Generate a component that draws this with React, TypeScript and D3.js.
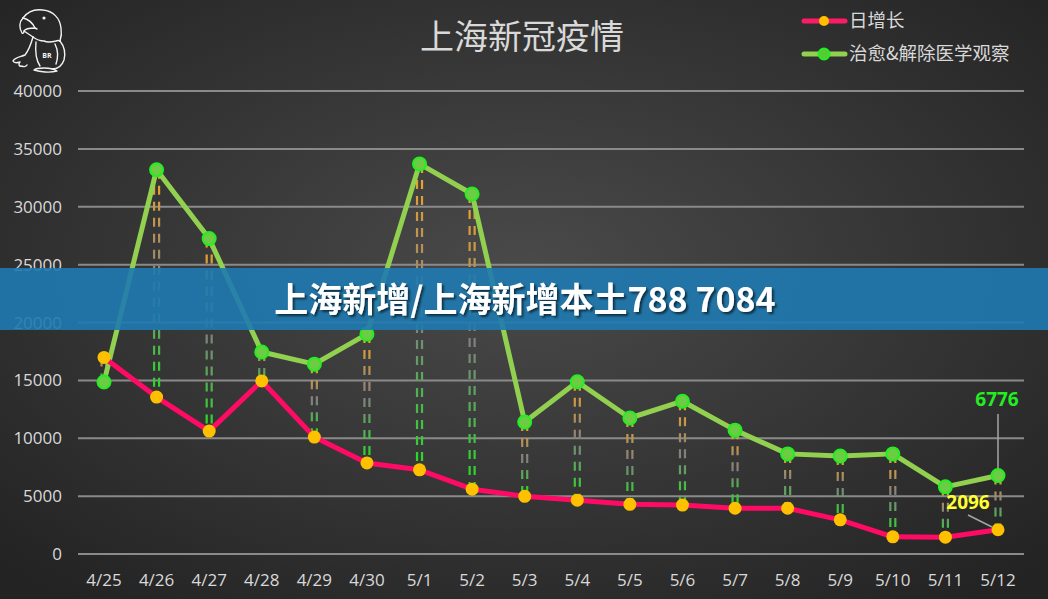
import React from "react";
import * as d3 from "d3";

const dates = ["4/25","4/26","4/27","4/28","4/29","4/30","5/1","5/2","5/3","5/4","5/5","5/6","5/7","5/8","5/9","5/10","5/11","5/12"];
const dailyNew = [16980,13560,10620,14950,10100,7870,7270,5600,4980,4650,4290,4230,3950,3950,2950,1480,1450,2096];
const recovered = [14860,33200,27250,17450,16400,19000,33700,31100,11400,14880,11750,13200,10700,8650,8470,8650,5800,6776];
const yTicks = [0,5000,10000,15000,20000,25000,30000,35000,40000];
const seriesNames = ["日增长","治愈&解除医学观察"];

const W = 1048, H = 599;
const M = { left: 78, right: 1024, top: 91, bottom: 554 };

export default function App() {
  const y = d3.scaleLinear().domain([0, 40000]).range([M.bottom, M.top]);
  const x = d3.scalePoint<string>().domain(dates).range([104, 998]);
  const line = d3.line<number>().x((_, i) => x(dates[i])!).y(d => y(d));
  const font = "'Microsoft YaHei','Noto Sans CJK SC','Noto Sans',sans-serif";
  const labelFont = "'Open Sans','Noto Sans',sans-serif";

  return (
    <svg width={W} height={H} style={{ position: "absolute", left: 0, top: 0 }}>
      <defs>
        <radialGradient id="bg" cx="50%" cy="45%" r="70%">
          <stop offset="0%" stopColor="#4a4a4a" />
          <stop offset="100%" stopColor="#232323" />
        </radialGradient>
        <filter id="shadow" x="-10%" y="-30%" width="120%" height="160%">
          <feDropShadow dx="2" dy="2" stdDeviation="1" floodColor="#000" floodOpacity="0.6" />
        </filter>
      </defs>
      <rect x={0} y={0} width={W} height={H} fill="url(#bg)" />

      {/* logo: parrot */}
      <g fill="none" stroke="#f2f2f2" strokeWidth={1.4} strokeLinejoin="round" strokeLinecap="round">
        <path d="M23,18 C28,11 36,9 43,10 C53,11 60,18 61,28 C62,34 61,38 60,41" />
        <path d="M23,18 C19,22 19,28 22,33 C23,34 24,33 24,31 C25,29 29,28 35,28 L37,29" />
        <path d="M23,18 C28,19 32,22 35,28" />
        <path d="M24,31 C27,33 30,35 33,37" />
        <path d="M33,37 C37,40 40,41 44,41 C48,43 52,42 56,41 C58,40 60,41 60,41" />
        <path d="M33,37 C31,44 29,50 25,55 C20,57 14,58 13,61 C14,63 17,63 20,62 C18,64 19,67 22,66 C23,67 26,67 27,65" />
        <path d="M60,41 C64,46 66,52 64,60 C62,66 58,69 52,69" />
        <path d="M55,44 C58,50 58,58 56,64" />
        <path d="M36,42 C35,52 36,60 40,66" />
        <path d="M34,70 C40,72 50,73 57,71 C54,69 48,68 44,68 C40,68 36,68 34,70" />
        <circle cx={44} cy={18} r={0.9} fill="#f2f2f2" />
      </g>
      <text x={47} y={58} fill="#f2f2f2" fontSize={7} fontWeight="bold" textAnchor="middle" fontFamily={labelFont}>BR</text>

      {/* title */}
      <text x={522} y={49} fill="#d9d9d9" fontSize={34} textAnchor="middle" fontFamily={font}>上海新冠疫情</text>

      {/* legend */}
      <g fontFamily={font} fontSize={18.5} fill="#d9d9d9">
        <line x1={804} x2={845} y1={21} y2={21} stroke="#ff1a66" strokeWidth={5} strokeLinecap="round" />
        <circle cx={824} cy={21} r={5} fill="#ffc000" />
        <text x={849} y={27}>{seriesNames[0]}</text>
        <line x1={804} x2={845} y1={54} y2={54} stroke="#92d050" strokeWidth={5} strokeLinecap="round" />
        <circle cx={824} cy={54} r={5.5} fill="#55cc33" stroke="#22ee22" strokeWidth={2} />
        <text x={849} y={60}>{seriesNames[1]}</text>
      </g>

      {/* grid */}
      {yTicks.map(t => (
        <g key={t}>
          <line x1={M.left} x2={M.right} y1={y(t)} y2={y(t)} stroke="#8a8a8a" strokeWidth={2} />
          <text x={62} y={y(t) + 6} fill="#d9d9d9" fontSize={17} textAnchor="end" fontFamily={labelFont}>{t}</text>
        </g>
      ))}
      {dates.map(d => (
        <text key={d} x={x(d)!} y={586} fill="#d9d9d9" fontSize={17} textAnchor="middle" fontFamily={labelFont}>{d}</text>
      ))}

      {/* dashed connectors */}
      <defs>
        {dates.map((d, i) => {
          const y1 = Math.min(y(dailyNew[i]), y(recovered[i]));
          const y2 = Math.max(y(dailyNew[i]), y(recovered[i]));
          return (
            <linearGradient key={d} id={`dg${i}`} gradientUnits="userSpaceOnUse" x1={0} x2={0} y1={y1} y2={y2}>
              <stop offset="0%" stopColor="#f5a623" />
              <stop offset="50%" stopColor="#808080" />
              <stop offset="100%" stopColor="#22e022" />
            </linearGradient>
          );
        })}
      </defs>
      {dates.map((d, i) => {
        const y1 = Math.min(y(dailyNew[i]), y(recovered[i]));
        const y2 = Math.max(y(dailyNew[i]), y(recovered[i]));
        const cx = x(d)!;
        return (
          <g key={d} stroke={`url(#dg${i})`} strokeWidth={2.2} strokeDasharray="9 7">
            <line x1={cx - 2.5} x2={cx - 2.5} y1={y1} y2={y2} />
            <line x1={cx + 2.5} x2={cx + 2.5} y1={y1} y2={y2} />
          </g>
        );
      })}

      {/* lines */}
      <path d={line(recovered)!} fill="none" stroke="#92d050" strokeWidth={5} strokeLinejoin="round" />
      <path d={line(dailyNew)!} fill="none" stroke="#ff0a64" strokeWidth={5} strokeLinejoin="round" />
      {dailyNew.map((v, i) => (
        <circle key={i} cx={x(dates[i])!} cy={y(v)} r={6.5} fill="#ffc000" />
      ))}
      {recovered.map((v, i) => (
        <circle key={i} cx={x(dates[i])!} cy={y(v)} r={6.5} fill="#6ccc44" stroke="#22ee22" strokeWidth={2} />
      ))}

      {/* annotations */}
      <line x1={x("5/12")!} x2={x("5/12")!} y1={414} y2={y(recovered[17]) - 7} stroke="#a6a6a6" strokeWidth={1.5} />
      <text x={997} y={406} fill="#22ee22" fontSize={19} fontWeight="bold" textAnchor="middle" fontFamily={labelFont}>{recovered[17]}</text>
      <line x1={968} x2={992} y1={515} y2={527} stroke="#a6a6a6" strokeWidth={1.5} />
      <text x={968} y={509} fill="#ffff33" fontSize={19} fontWeight="bold" textAnchor="middle" fontFamily={labelFont}>{dailyNew[17]}</text>

      {/* banner */}
      <rect x={0} y={268} width={W} height={62} fill="#1e7ab0" opacity={0.9} />
      <text x={525} y={312} fill="#ffffff" fontSize={34} fontWeight="bold" textAnchor="middle" fontFamily={font} filter="url(#shadow)">上海新增/上海新增本土788 7084</text>
    </svg>
  );
}
